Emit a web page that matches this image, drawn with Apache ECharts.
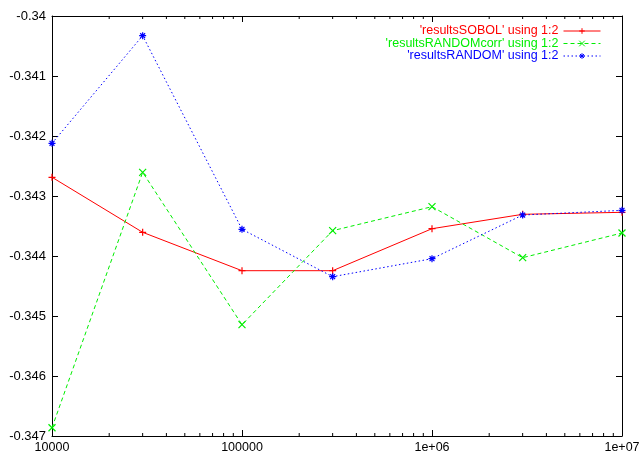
<!DOCTYPE html>
<html>
<head>
<meta charset="utf-8">
<script src="https://cdn.jsdelivr.net/npm/echarts@6/dist/echarts.min.js"></script>
<style>
html,body{margin:0;padding:0;background:#fff;}
#chart{width:643px;height:455px;}
</style>
</head>
<body>
<div id="chart"></div>
<script>
const xValues = [10000, 30000, 100000, 300000, 1000000, 3000000, 10000000];
const sobol = [-0.342688, -0.343605, -0.344245, -0.344245, -0.343545, -0.343305, -0.343272];
const randomCorr = [-0.346862, -0.342605, -0.345145, -0.343578, -0.343178, -0.344028, -0.343617];
const randomVals = [-0.342122, -0.340328, -0.343555, -0.344345, -0.344045, -0.343317, -0.343239];
const seriesNames = ["'resultsSOBOL' using 1:2", "'resultsRANDOMcorr' using 1:2", "'resultsRANDOM' using 1:2"];
const minorTickValues = [2e4,3e4,4e4,5e4,6e4,7e4,8e4,9e4,2e5,3e5,4e5,5e5,6e5,7e5,8e5,9e5,2e6,3e6,4e6,5e6,6e6,7e6,8e6,9e6];
const xMin = 10000, xMax = 10000000;
const yMin = -0.347, yMax = -0.34, yStep = 0.001;

const FONT = 'Liberation Sans, Arial, Helvetica, sans-serif';
const chart = echarts.init(document.getElementById('chart'), null, {renderer: 'canvas'});

function pairs(vals) { return xValues.map((x, i) => [x, vals[i]]); }
function xFmt(v) {
  const e = Math.round(Math.log10(v));
  if (e >= 6) return '1e+0' + e;
  return String(Math.pow(10, e));
}
function yFmt(v) { return String(+v.toFixed(3)); }

const plusPath = 'path://M0,5L10,5M5,0L5,10';
const crossPath = 'path://M0,0L10,10M10,0L0,10';
const starPath = 'path://M0,5L10,5M5,0L5,10M1.5,1.5L8.5,8.5M8.5,1.5L1.5,8.5';

function lineSeries(name, vals, color, dash, sym) {
  return {
    name: name,
    type: 'line',
    data: pairs(vals),
    symbol: sym,
    symbolSize: 7,
    showSymbol: true,
    lineStyle: {color: color, width: 1, type: dash},
    itemStyle: {color: 'rgba(0,0,0,0)', borderColor: color, borderWidth: 1.2},
    emphasis: {disabled: true},
    animation: false,
    z: 5
  };
}

const option = {
  animation: false,
  backgroundColor: '#fff',
  grid: {left: 52, right: 21, top: 16, bottom: 19, show: false},
  legend: {
    orient: 'vertical',
    right: 37,
    top: 19,
    align: 'right',
    itemWidth: 37,
    itemHeight: 7,
    itemGap: -1.5,
    selectedMode: false,
    lineStyle: {width: 1},
    itemStyle: {borderWidth: 1},
    textStyle: {fontFamily: FONT, fontSize: 12.5, lineHeight: 14},
    data: [
      {name: seriesNames[0], textStyle: {color: '#ff0000'}},
      {name: seriesNames[1], textStyle: {color: '#00ee00'}},
      {name: seriesNames[2], textStyle: {color: '#0000ff'}}
    ]
  },
  xAxis: [
    {
      type: 'log', logBase: 10, min: xMin, max: xMax, splitNumber: 3,
      axisLine: {show: true, lineStyle: {color: '#000', width: 1}},
      axisTick: {show: true, inside: true, length: 6, lineStyle: {color: '#000'}},
      axisLabel: {formatter: xFmt, color: '#000', fontFamily: FONT, fontSize: 12.5, margin: 5},
      splitLine: {show: false}
    },
    {
      type: 'log', logBase: 10, min: xMin, max: xMax, splitNumber: 3, position: 'top',
      axisLine: {show: true, lineStyle: {color: '#000', width: 1}},
      axisTick: {show: true, inside: true, length: 6, lineStyle: {color: '#000'}},
      axisLabel: {show: false},
      splitLine: {show: false}
    }
  ],
  yAxis: [
    {
      type: 'value', min: yMin, max: yMax, interval: yStep,
      axisLine: {show: true, lineStyle: {color: '#000', width: 1}},
      axisTick: {show: true, inside: true, length: 6, lineStyle: {color: '#000'}},
      axisLabel: {formatter: yFmt, color: '#000', fontFamily: FONT, fontSize: 13, margin: 6},
      splitLine: {show: false}
    },
    {
      type: 'value', min: yMin, max: yMax, interval: yStep, position: 'right',
      axisLine: {show: true, lineStyle: {color: '#000', width: 1}},
      axisTick: {show: true, inside: true, length: 6, lineStyle: {color: '#000'}},
      axisLabel: {show: false},
      splitLine: {show: false}
    }
  ],
  series: [
    lineSeries(seriesNames[0], sobol, '#ff0000', 'solid', plusPath),
    lineSeries(seriesNames[1], randomCorr, '#00ee00', [4, 3], crossPath),
    lineSeries(seriesNames[2], randomVals, '#0000ff', [1.5, 2.5], starPath),
    {
      type: 'custom',
      xAxisIndex: 0, yAxisIndex: 0,
      silent: true,
      clip: false,
      animation: false,
      data: minorTickValues.map(v => [v]),
      renderItem: function (params, api) {
        const v = api.value(0);
        const b = api.coord([v, yMin]);
        const t = api.coord([v, yMax]);
        return {
          type: 'group',
          children: [
            {type: 'line', shape: {x1: b[0], y1: b[1], x2: b[0], y2: b[1] - 3}, style: {stroke: '#000', lineWidth: 1}},
            {type: 'line', shape: {x1: t[0], y1: t[1], x2: t[0], y2: t[1] + 3}, style: {stroke: '#000', lineWidth: 1}}
          ]
        };
      },
      z: 3
    }
  ]
};
chart.setOption(option);
</script>
</body>
</html>
